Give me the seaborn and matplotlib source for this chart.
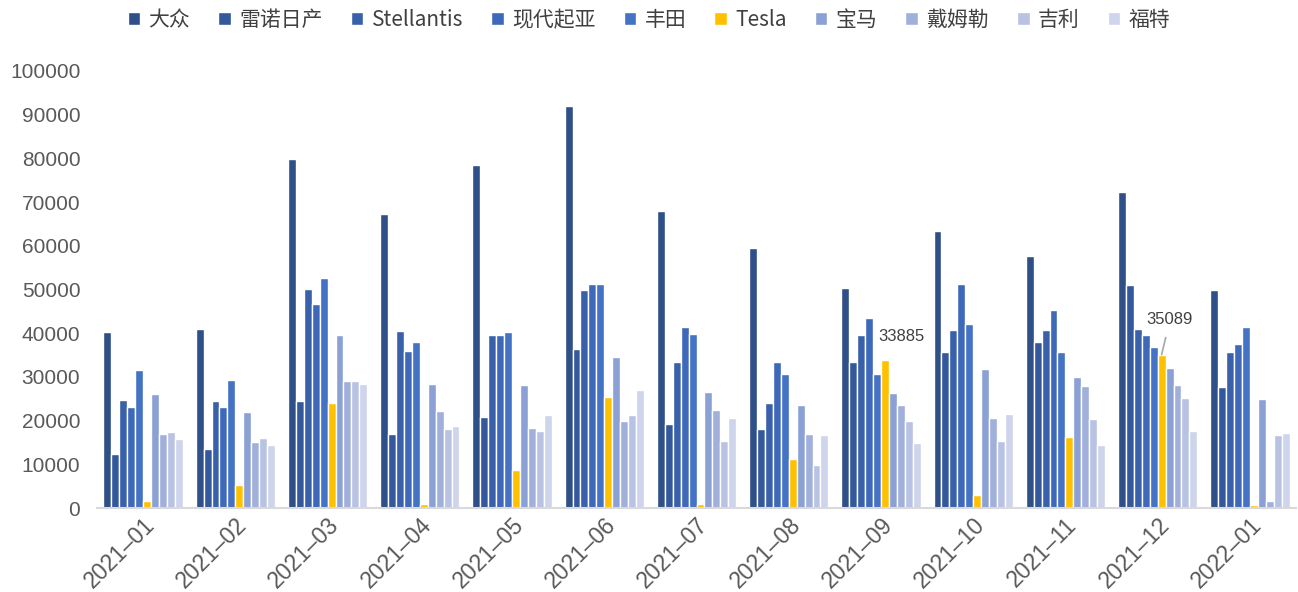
import pandas as pd
import seaborn as sns
import matplotlib.pyplot as plt

# monthly sales by brand
months = ['2021–01', '2021–02', '2021–03', '2021–04', '2021–05', '2021–06', '2021–07',
          '2021–08', '2021–09', '2021–10', '2021–11', '2021–12', '2022–01']
brands = ['大众', '雷诺日产', 'Stellantis', '现代起亚', '丰田', 'Tesla', '宝马', '戴姆勒', '吉利', '福特']

vw = [40200, 40900, 79800, 67200, 78400, 92000, 68000, 59600, 50400, 63400, 57600, 72400, 49900]
renault = [12300, 13600, 24500, 17000, 20900, 36400, 19200, 18100, 33400, 35800, 38000, 51000, 27700]
stellantis = [24800, 24400, 50100, 40500, 39600, 49800, 33500, 24000, 39500, 40800, 40700, 40900, 35800]
hyundai = [23200, 23200, 46600, 36000, 39600, 51200, 41500, 33400, 43500, 51300, 45300, 39500, 37600]
toyota = [31500, 29400, 52600, 38000, 40300, 51300, 39800, 30600, 30600, 42100, 35600, 36800, 41500]
tesla = [1500, 5300, 24000, 1000, 8700, 25500, 900, 11200, 33885, 2900, 16200, 35089, 600]
bmw = [26200, 22000, 39500, 28400, 28200, 34500, 26500, 23500, 26300, 31700, 29900, 32000, 24900]
daimler = [16900, 15000, 29000, 22100, 18400, 19800, 22400, 16900, 23600, 20600, 28000, 28200, 1600]
geely = [17400, 16100, 29000, 18000, 17700, 21300, 15400, 9800, 19800, 15300, 20400, 25100, 16700]
ford = [15900, 14400, 28300, 18700, 21300, 26900, 20700, 16700, 14900, 21500, 14400, 17600, 17200]

colors = ['#2E4F87', '#33589B', '#3960AB', '#3E68B9', '#4472C4', '#FFC000',
          '#8BA0D4', '#A1AFDB', '#B8C2E3', '#CDD4EB']

series = [vw, renault, stellantis, hyundai, toyota, tesla, bmw, daimler, geely, ford]
df = pd.DataFrame({
    'month': months * len(brands),
    'brand': [b for b in brands for _ in months],
    'sales': [v for s in series for v in s],
})

sns.set_style('white')
plt.rcParams['font.family'] = ['Liberation Sans', 'Noto Sans CJK SC', 'DejaVu Sans']

fig = plt.figure(figsize=(12.98, 5.92), dpi=100)
ax = fig.add_axes([97 / 1298, 1 - 508 / 592, 1199 / 1298, 437 / 592])

sns.barplot(data=df, x='month', y='sales', hue='brand', hue_order=brands,
            order=months, palette=colors, saturation=1, width=0.86, edgecolor='white',
            linewidth=1.0, errorbar=None, ax=ax)

ax.set_ylim(0, 100000)
ax.set_xlim(-0.5, len(months) - 0.5)
ax.set_yticks(range(0, 100001, 10000))
ax.set_xlabel('')
ax.set_ylabel('')
for s in ['top', 'right', 'left']:
    ax.spines[s].set_visible(False)
ax.spines['bottom'].set_color('#d9d9d9')
ax.spines['bottom'].set_linewidth(1.5)

ax.tick_params(axis='y', length=0, pad=12, labelsize=15, labelcolor='#595959')
ax.tick_params(axis='x', which='major', length=0, pad=4, labelsize=16.5, labelcolor='#595959')
ax.set_xticks([i - 0.5 for i in range(len(months) + 1)], minor=True)
ax.tick_params(axis='x', which='minor', length=6, width=1.5, color='#d9d9d9')
plt.setp(ax.get_xticklabels(), rotation=45, ha='right', va='top', rotation_mode='anchor')

# annotate Tesla in 2021-09 and 2021-12
tesla_bars = ax.containers[brands.index('Tesla')]
b9 = tesla_bars[months.index('2021–09')]
ax.annotate(f'{tesla[8]}', xy=(b9.get_x() + b9.get_width() / 2, b9.get_height()),
            xytext=(12, 17), textcoords='offset points', ha='center', va='center',
            fontsize=12, color='#404040')
b12 = tesla_bars[months.index('2021–12')]
ax.annotate(f'{tesla[11]}', xy=(b12.get_x() + b12.get_width() / 2, b12.get_height()),
            xytext=(6, 25), textcoords='offset points', ha='center', va='center',
            fontsize=12, color='#404040',
            arrowprops=dict(arrowstyle='-', color='#a6a6a6', lw=1.2, shrinkA=5, shrinkB=0))

handles, labels = ax.get_legend_handles_labels()
ax.legend_.remove()
fig.legend(handles, labels, loc='center', bbox_to_anchor=(0.5, 1 - 20 / 592), ncol=10,
           frameon=False, handlelength=0.6, handleheight=0.6, handletextpad=0.4,
           columnspacing=1.35, prop={'family': ['Noto Sans CJK SC', 'DejaVu Sans'], 'size': 15},
           labelcolor='#404040')

fig.savefig('out.png', dpi=100)
